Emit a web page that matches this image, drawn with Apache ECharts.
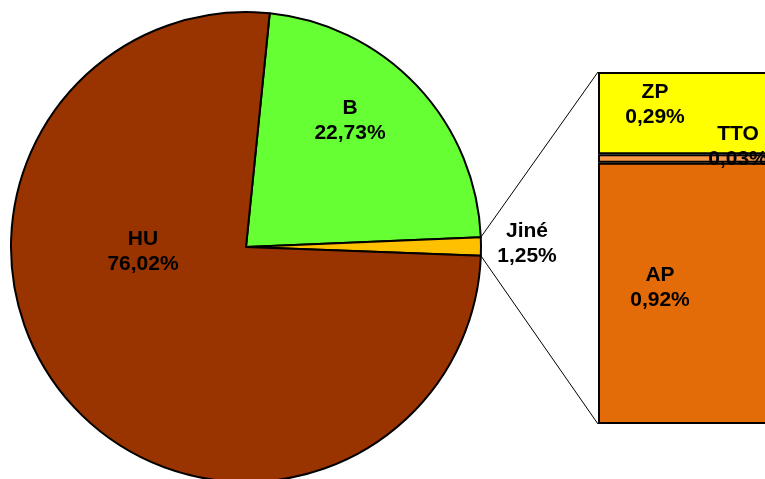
<!DOCTYPE html>
<html>
<head>
<meta charset="utf-8">
<script src="https://cdn.jsdelivr.net/npm/echarts@6/dist/echarts.min.js"></script>
<style>html,body{margin:0;padding:0;background:#fff;}#c{width:765px;height:479px;}</style>
</head>
<body>
<div id="c"></div>
<script>
// Pie data (clockwise from top)
const pieNames = ['B', 'Jiné', 'HU'];
const pieValues = [22.73, 1.25, 76.02];
const pieColors = ['#66FF33', '#FFC000', '#993300'];
// Breakdown of "Jiné" (bottom to top of stacked bar)
const barNames = ['AP', 'TTO', 'ZP'];
const barValues = [0.92, 0.03, 0.29];
const barColors = ['#E36C09', '#F79646', '#FFFF00'];

const fmt = v => v.toFixed(2).replace('.', ',') + '%';
const FONT = {fontFamily: 'Liberation Sans, Arial, sans-serif', fontWeight: 'bold', fontSize: 21, lineHeight: 25, color: '#000'};

const cx = 246, cy = 247, R = 235, startAngle = 84.2;
const gridLeft = 598, gridTop = 72, gridHeight = 352;
const W = 765;

// label positions for pie slices (centers)
const pieLabelPos = {0: [350, 121], 1: [527, 244], 2: [143, 252]};
// bar label positions relative to each rect's top-left
const barLabelPos = {AP: [62, 125], TTO: [140, -8], ZP: [57, 33]};

const chart = echarts.init(document.getElementById('c'), null, {renderer: 'canvas'});

const option = {
  animation: false,
  backgroundColor: '#fff',
  grid: {left: gridLeft, top: gridTop, height: gridHeight, right: 0, containLabel: false},
  xAxis: {type: 'category', data: ['', 'Jiné'], boundaryGap: false, show: false},
  yAxis: {type: 'value', min: 0, max: barValues.reduce((a, b) => a + b, 0), show: false},
  series: [
    {
      type: 'pie',
      center: [cx, cy],
      radius: R,
      startAngle: startAngle,
      clockwise: true,
      silent: true,
      data: pieNames.map((n, i) => ({name: n, value: pieValues[i], itemStyle: {color: pieColors[i]}})),
      itemStyle: {borderColor: '#000', borderWidth: 2},
      label: Object.assign({show: true, position: 'inside', align: 'center', verticalAlign: 'middle',
        formatter: p => p.name + '\n' + fmt(p.value)}, FONT),
      labelLine: {show: false},
      labelLayout: p => ({x: pieLabelPos[p.dataIndex][0], y: pieLabelPos[p.dataIndex][1], align: 'center', verticalAlign: 'middle'})
    }
  ].concat(barNames.map((n, i) => ({
    type: 'bar',
    name: n,
    stack: 'jine',
    barWidth: 2 * (W - gridLeft),
    clip: false,
    silent: true,
    data: [null, barValues[i]],
    itemStyle: {color: barColors[i], borderColor: '#000', borderWidth: 2},
    label: Object.assign({show: true, position: barLabelPos[n], align: 'center', verticalAlign: 'middle',
      formatter: p => n + '\n' + fmt(p.value)}, FONT)
  })))
};
chart.setOption(option);

// connector lines from the "Jiné" slice edge to the bar corners
const toRad = d => d * Math.PI / 180;
const total = pieValues.reduce((a, b) => a + b, 0);
const a1 = startAngle - pieValues[0] / total * 360;
const a2 = a1 - pieValues[1] / total * 360;
const p1 = [cx + R * Math.cos(toRad(a1)), cy - R * Math.sin(toRad(a1))];
const p2 = [cx + R * Math.cos(toRad(a2)), cy - R * Math.sin(toRad(a2))];
const yTop = chart.convertToPixel({yAxisIndex: 0}, option.yAxis.max);
const yBot = chart.convertToPixel({yAxisIndex: 0}, 0);
chart.setOption({
  graphic: [
    {type: 'line', shape: {x1: p1[0], y1: p1[1], x2: gridLeft, y2: yTop}, style: {stroke: '#000', lineWidth: 1}, z: 0},
    {type: 'line', shape: {x1: p2[0], y1: p2[1], x2: gridLeft, y2: yBot}, style: {stroke: '#000', lineWidth: 1}, z: 0}
  ]
});
</script>
</body>
</html>
